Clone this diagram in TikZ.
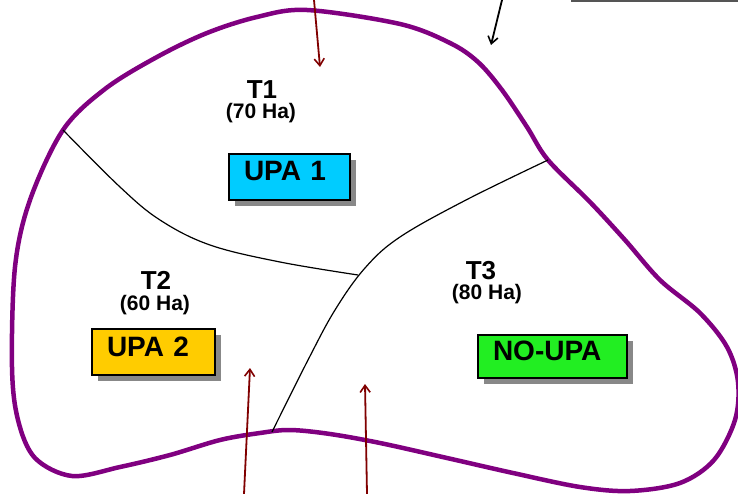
\documentclass[tikz,border=0pt]{standalone}
\usepackage{fontspec}
\setmainfont{Liberation Sans}
\usetikzlibrary{arrows.meta,shadows}
\definecolor{bnd}{HTML}{800080}
\definecolor{dred}{HTML}{800000}
\definecolor{upaone}{HTML}{00CCFF}
\definecolor{upatwo}{HTML}{FFCC00}
\definecolor{noupa}{HTML}{22EE22}
\definecolor{shad}{HTML}{888888}
\definecolor{topline}{HTML}{555555}
\begin{document}
\begin{tikzpicture}[x=1pt,y=-1pt,
  border/.style={draw=bnd,line width=4.5pt},
  divide/.style={draw=black,line width=1.2pt},
  inflow/.style={draw=dred,line width=1.8pt,-{Straight Barb[length=7pt,width=10pt,line width=1.6pt]}},
  outflow/.style={draw=black,line width=1.8pt,-{Straight Barb[length=7pt,width=10pt,line width=1.6pt]}},
  tlabel/.style={font=\bfseries\fontsize{26}{26}\selectfont,anchor=base,inner sep=0pt,text depth=0pt},
  alabel/.style={font=\bfseries\fontsize{21}{21}\selectfont,anchor=base,inner sep=0pt,text height=15pt},
  unitbox/.style={draw=black,line width=2pt,anchor=north west,
    font=\bfseries\fontsize{28}{28}\selectfont,align=left,
    inner xsep=15pt,inner ysep=0pt,text height=20pt,text depth=12pt,
    general shadow={shadow xshift=6pt,shadow yshift=-6pt,fill=shad,opacity=1}}
]
\useasboundingbox (0,0) rectangle (738,494);

% field boundary
\draw[border] plot[smooth cycle,tension=0.55] coordinates {
  (307,10) (400,24) (450,43) (478,62) (502,90) (527,127) (548,160)
  (590,202) (625,240) (660,280) (700,313) (727,347) (738,382) (735,420)
  (714,460) (680,483) (630,491) (580,487) (513,473) (447,458)
  (380,443) (330,434) (290,430) (260,433) (220,440) (170,455) (120,467) (72,476)
  (35,458) (18,420) (12,367) (15,267) (30,200) (63,130) (105,89)
  (157,57) (207,33) (257,17)};

% junction coordinates
\coordinate (j1) at (63,130);
\coordinate (j2) at (548,160);
\coordinate (j3) at (272,432);
\coordinate (jm) at (358,275);

% internal divisions
\draw[divide] plot[smooth,tension=0.6] coordinates {
  (j1) (120,187) (160,220) (210,245) (280,262) (jm)};
\draw[divide] plot[smooth,tension=0.6] coordinates {
  (j2) (466,200) (400,237) (365,268) (335,310) (308,360) (j3)};

% labels
\node[tlabel] (t1) at (262,99) {T1};
\node[alabel] (a1) at (261,119) {(70 Ha)};
\node[tlabel] (t2) at (156,289) {T2};
\node[alabel] (a2) at (155,310) {(60 Ha)};
\node[tlabel] (t3) at (481,279) {T3};
\node[alabel] (a3) at (487,299) {(80 Ha)};

% unit boxes
\node[unitbox,fill=upaone,text width=91pt,minimum height=46pt] (u1) at (228,153) {UPA 1};
\node[unitbox,fill=upatwo,text width=93pt,minimum height=46pt] (u2) at (91,328) {UPA 2};
\node[unitbox,fill=noupa,text width=119pt,minimum height=43pt] (u3) at (477,334) {NO-UPA};

% arrows
\coordinate (r1s) at (314,0);
\coordinate (r1e) at (320,67);
\coordinate (r2s) at (244,494);
\coordinate (r2e) at (250,368);
\coordinate (r3s) at (367,494);
\coordinate (r3e) at (365,384);
\coordinate (bs) at (502,0);
\coordinate (be) at (491,45);
\draw[inflow] (r1s) -- (r1e);
\draw[inflow] (r2s) -- (r2e);
\draw[inflow] (r3s) -- (r3e);
\draw[outflow] (bs) -- (be);

% top right line
\coordinate (ls) at (571,1);
\coordinate (le) at (738,1);
\draw[topline,line width=1.6pt] (ls) -- (le);
\end{tikzpicture}
\end{document}
